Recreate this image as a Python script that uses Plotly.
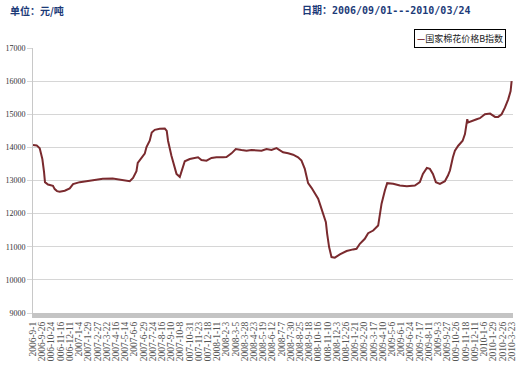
import plotly.graph_objects as go

# tick labels (as displayed, some truncated in the original)
tick_labels = [
    "2006-9-1", "2006-9-26", "006-10-24", "006-11-16", "006-12-11", "2007-1-4",
    "2007-1-29", "2007-2-27", "2007-3-22", "2007-4-16", "2007-5-14", "2007-6-6",
    "2007-6-29", "2007-7-24", "2007-8-16", "2007-9-10", "2007-10-8", "007-10-31",
    "007-11-23", "007-12-18", "2008-1-11", "2008-2-3", "2008-3-5", "2008-3-28",
    "2008-4-23", "2008-5-19", "2008-6-12", "2008-7-7", "2008-7-30", "2008-8-25",
    "2008-9-18", "008-10-16", "008-11-10", "2008-12-3", "008-12-26", "2009-1-21",
    "2009-2-20", "2009-3-17", "2009-4-10", "2009-5-6", "2009-6-1", "2009-6-24",
    "2009-7-17", "2009-8-11", "2009-9-3", "2009-9-27", "009-10-26", "009-11-18",
    "009-12-11", "2010-1-6", "2010-1-29", "2010-2-26", "2010-3-23",
]

# position along the date axis, in tick-label units
pos = [
    0.00, 0.40, 0.73, 1.02, 1.20, 1.30, 1.63, 2.17, 2.36, 2.61, 2.90, 3.45, 3.99,
    4.35, 5.08, 5.80, 6.52, 7.58, 8.66, 9.42, 10.15, 10.51, 10.87, 11.24, 11.38,
    11.78, 12.14, 12.33, 12.68, 12.90, 13.23, 13.77, 14.32, 14.53, 14.67, 15.04,
    15.40, 15.59, 15.95, 16.24, 16.49, 17.03, 17.58, 17.93, 18.30, 18.85, 19.39,
    19.93, 20.65, 21.02, 21.57, 22.03, 22.65, 23.20, 23.74, 24.28, 24.83, 25.37,
    25.91, 26.46, 26.82, 27.17, 27.72, 28.26, 28.80, 29.17, 29.53, 29.89, 30.26,
    30.62, 30.98, 31.16, 31.52, 31.82, 31.96, 32.17, 32.43, 32.79, 33.34, 34.07,
    34.78, 35.15, 35.51, 36.05, 36.41, 36.96, 37.50, 37.68, 37.87, 38.23, 38.48,
    39.13, 39.86, 40.62, 41.49, 42.03, 42.36, 42.79, 43.12, 43.45, 43.77, 44.21,
    44.75, 45.08, 45.30, 45.62, 45.84, 46.20, 46.68, 46.93, 47.18, 47.28, 47.65,
    48.20, 48.55, 49.10, 49.66, 50.20, 50.54, 50.91, 51.27, 51.63, 51.89, 52.00,
]

# 国家棉花价格B指数 (元/吨)
index_b = [
    14070, 14060, 13970, 13640, 13250, 12950, 12880, 12840, 12740, 12680, 12660, 12690, 12760,
    12890, 12950, 12980, 13010, 13050, 13060, 13030, 12990, 12980, 13080, 13280, 13530,
    13670, 13810, 14010, 14200, 14450, 14530, 14560, 14570, 14500, 14200, 13750,
    13400, 13200, 13110, 13400, 13580, 13650, 13680, 13700, 13620, 13600, 13680,
    13700, 13700, 13710, 13820, 13950, 13920, 13900, 13920, 13900, 13900, 13950,
    13920, 13980, 13920, 13850, 13820, 13780, 13700, 13600, 13350, 12920, 12780,
    12620, 12450, 12300, 12000, 11740, 11390, 10990, 10690, 10670, 10770, 10870,
    10920, 10940, 11090, 11240, 11410, 11490, 11640, 12000, 12300, 12700, 12920,
    12900, 12850, 12830, 12850, 12950, 13200, 13380, 13350, 13200, 12950, 12900,
    12980, 13150, 13300, 13700, 13900, 14050, 14200, 14400, 14850, 14750, 14800,
    14850, 14880, 15000, 15020, 14920, 14920, 15000, 15200, 15450, 15700, 16000,
]

y_ticks = [9000, 10000, 11000, 12000, 13000, 14000, 15000, 16000, 17000]

line_color = "#7a2a2e"
title_color = "#1c3a78"

fig = go.Figure()
fig.add_trace(go.Scatter(
    x=pos, y=index_b, mode="lines",
    line=dict(color=line_color, width=2),
    name="国家棉花价格B指数", showlegend=False, hoverinfo="skip",
))

fig.update_layout(
    width=520, height=371,
    margin=dict(l=33, t=48, r=7, b=58, pad=0),
    paper_bgcolor="white", plot_bgcolor="white",
    font=dict(family="Liberation Serif, DejaVu Serif, serif", size=8, color="#444"),
    xaxis=dict(
        range=[0, 52.15], tickmode="array",
        tickvals=list(range(len(tick_labels))), ticktext=tick_labels,
        tickangle=-90, showgrid=False, zeroline=False,
        showline=True, linecolor="#c4c4c4", linewidth=5,
        ticks="", automargin=False,
        tickfont=dict(family="Liberation Serif, DejaVu Serif, serif", size=9.5, color="#555"),
    ),
    yaxis=dict(
        range=[9000, 17000], tickmode="array", tickvals=y_ticks,
        ticktext=[str(v) for v in y_ticks],
        showgrid=True, gridcolor="#d6d6d6", gridwidth=1, zeroline=False,
        showline=True, linecolor="#c8c8c8", linewidth=1,
        ticks="outside", ticklen=5, tickcolor="#d6d6d6",
        automargin=False,
        tickfont=dict(family="Liberation Serif, DejaVu Serif, serif", size=8, color="#333"),
    ),
    annotations=[
        dict(text="<b>单位：元/吨</b>", x=8, y=371 - 10, xref="paper", yref="paper",
             xanchor="left", yanchor="middle", showarrow=False,
             font=dict(family="Noto Sans CJK SC, DejaVu Sans Mono", size=10, color=title_color)),
        dict(text="<b>日期：2006/09/01---2010/03/24</b>", x=300, y=371 - 10,
             xref="paper", yref="paper", xanchor="left", yanchor="middle", showarrow=False,
             font=dict(family="DejaVu Sans Mono, Noto Sans CJK SC", size=10, color=title_color)),
        dict(text="<span style='color:%s'><b>—</b></span>国家棉花价格B指数" % line_color,
             x=414, y=371 - 29, xref="paper", yref="paper",
             xanchor="left", yanchor="top", showarrow=False,
             bordercolor="#000", borderwidth=1, borderpad=2, bgcolor="white",
             font=dict(family="Noto Sans CJK SC", size=9, color="#222")),
    ],
)

# convert pixel-based annotation coordinates into paper fractions
pw, ph = 520 - 33 - 7, 371 - 48 - 58
for a in fig.layout.annotations:
    a.x = (a.x - 33) / pw
    a.y = (a.y - 58) / ph

fig.write_html("out.html", config={"displayModeBar": False},
               post_script="document.body.style.margin='0';")
